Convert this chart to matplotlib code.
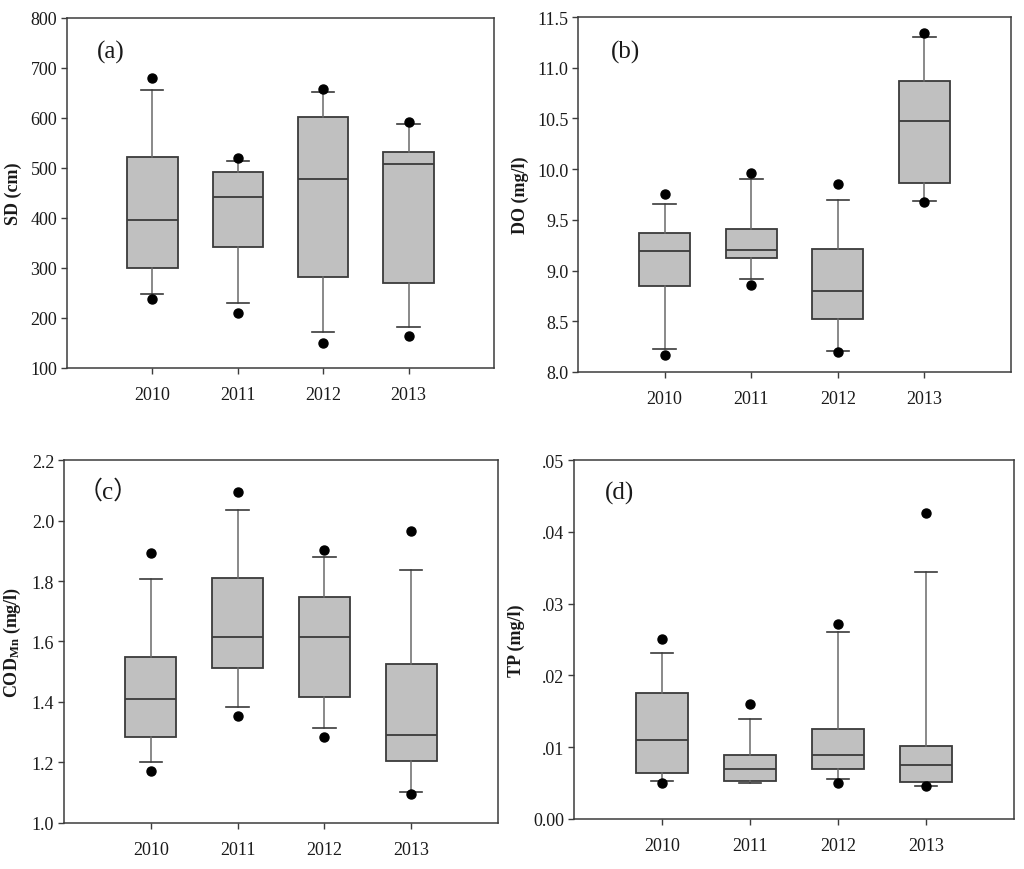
import matplotlib
matplotlib.use("Agg")
import matplotlib.pyplot as plt
from matplotlib.ticker import FixedLocator, FixedFormatter

years = ["2010", "2011", "2012", "2013"]

# SD (cm)
sd_whislo = [247, 229, 171, 181]
sd_q1 = [299, 342, 282, 270]
sd_med = [396, 442, 478, 507]
sd_q3 = [521, 491, 602, 532]
sd_whishi = [656, 513, 652, 587]
sd_fliers = [[238, 679], [209, 519], [149, 657], [163, 591]]

# DO (mg/l)
do_whislo = [8.227, 8.919, 8.207, 9.686]
do_q1 = [8.846, 9.123, 8.523, 9.860]
do_med = [9.189, 9.205, 8.803, 10.479]
do_q3 = [9.370, 9.409, 9.208, 10.871]
do_whishi = [9.659, 9.903, 9.696, 11.299]
do_fliers = [[8.168, 9.758], [8.853, 9.966], [8.194, 9.857], [9.679, 11.345]]

# COD_Mn (mg/l)
cod_whislo = [1.201, 1.385, 1.315, 1.103]
cod_q1 = [1.283, 1.514, 1.416, 1.204]
cod_med = [1.410, 1.615, 1.616, 1.292]
cod_q3 = [1.550, 1.810, 1.747, 1.525]
cod_whishi = [1.808, 2.034, 1.880, 1.836]
cod_fliers = [[1.173, 1.893], [1.353, 2.093], [1.283, 1.904], [1.096, 1.966]]

# TP (mg/l)
tp_whislo = [0.00529, 0.00496, 0.00561, 0.00459]
tp_q1 = [0.00645, 0.00524, 0.0070, 0.00519]
tp_med = [0.01099, 0.0070, 0.00895, 0.00747]
tp_q3 = [0.01749, 0.00895, 0.01248, 0.01011]
tp_whishi = [0.02314, 0.01391, 0.02607, 0.03437]
tp_fliers = [[0.00501, 0.02505], [0.01605], [0.00501, 0.02713], [0.00455, 0.04267]]

sd_ticks = [100, 200, 300, 400, 500, 600, 700, 800]
sd_ticklabels = ["100", "200", "300", "400", "500", "600", "700", "800"]
do_ticks = [8.0, 8.5, 9.0, 9.5, 10.0, 10.5, 11.0, 11.5]
do_ticklabels = ["8.0", "8.5", "9.0", "9.5", "10.0", "10.5", "11.0", "11.5"]
cod_ticks = [1.0, 1.2, 1.4, 1.6, 1.8, 2.0, 2.2]
cod_ticklabels = ["1.0", "1.2", "1.4", "1.6", "1.8", "2.0", "2.2"]
tp_ticks = [0.0, 0.01, 0.02, 0.03, 0.04, 0.05]
tp_ticklabels = ["0.00", ".01", ".02", ".03", ".04", ".05"]

SERIF = ["Liberation Serif", "DejaVu Serif"]
PANEL_FONT = ["Liberation Serif", "Noto Sans CJK SC", "DejaVu Serif"]
plt.rcParams["font.family"] = SERIF
plt.rcParams["mathtext.fontset"] = "custom"
plt.rcParams["mathtext.rm"] = "Liberation Serif"
plt.rcParams["mathtext.bf"] = "Liberation Serif:bold"

fig = plt.figure(figsize=(10.24, 8.7), dpi=100)

panels = [
    dict(rect=[0.0654, 0.5759, 0.4170, 0.4023], lo=sd_whislo, q1=sd_q1, med=sd_med, q3=sd_q3,
         hi=sd_whishi, fl=sd_fliers, ticks=sd_ticks, tl=sd_ticklabels, ylim=(100, 800),
         ylabel="SD (cm)", label="(a)", lpos=(0.070, 0.905)),
    dict(rect=[0.5645, 0.5713, 0.4229, 0.4080], lo=do_whislo, q1=do_q1, med=do_med, q3=do_q3,
         hi=do_whishi, fl=do_fliers, ticks=do_ticks, tl=do_ticklabels, ylim=(8.0, 11.5),
         ylabel="DO (mg/l)", label="(b)", lpos=(0.076, 0.904)),
    dict(rect=[0.0625, 0.0529, 0.4238, 0.4172], lo=cod_whislo, q1=cod_q1, med=cod_med, q3=cod_q3,
         hi=cod_whishi, fl=cod_fliers, ticks=cod_ticks, tl=cod_ticklabels, ylim=(1.0, 2.2),
         ylabel=r"$\mathbf{COD_{Mn}}$ (mg/l)", label="（c）", lpos=(0.032, 0.915)),
    dict(rect=[0.5605, 0.0575, 0.4297, 0.4126], lo=tp_whislo, q1=tp_q1, med=tp_med, q3=tp_q3,
         hi=tp_whishi, fl=tp_fliers, ticks=tp_ticks, tl=tp_ticklabels, ylim=(0.0, 0.05),
         ylabel="TP (mg/l)", label="(d)", lpos=(0.070, 0.911)),
]

box_face = "#c0c0c0"
line_col = "#3a3a3a"
whisk_col = "#6a6a6a"
spine_col = "#3c3c3c"

for p in panels:
    ax = fig.add_axes(p["rect"])
    stats = []
    for i, y in enumerate(years):
        stats.append(dict(label=y, whislo=p["lo"][i], q1=p["q1"][i], med=p["med"][i],
                          q3=p["q3"][i], whishi=p["hi"][i], fliers=p["fl"][i]))
    ax.bxp(stats, positions=[1, 2, 3, 4], widths=0.59, capwidths=0.26,
           patch_artist=True, showfliers=True,
           boxprops=dict(facecolor=box_face, edgecolor=line_col, linewidth=1.3),
           medianprops=dict(color=line_col, linewidth=1.3),
           whiskerprops=dict(color=whisk_col, linewidth=1.1),
           capprops=dict(color=line_col, linewidth=1.2),
           flierprops=dict(marker="o", markerfacecolor="black", markeredgecolor="black",
                           markersize=6.5, linestyle="none"))
    ax.set_xlim(0, 5)
    ax.set_ylim(*p["ylim"])
    ax.yaxis.set_major_locator(FixedLocator(p["ticks"]))
    ax.yaxis.set_major_formatter(FixedFormatter(p["tl"]))
    ax.set_xticks([1, 2, 3, 4])
    ax.set_xticklabels(years)
    ax.tick_params(direction="out", length=4, width=1, color=spine_col,
                   labelsize=13, labelcolor="#1a1a1a")
    ax.tick_params(axis="x", pad=9)
    ax.tick_params(axis="y", pad=3)
    for s in ax.spines.values():
        s.set_color(spine_col)
        s.set_linewidth(1.1)
    ax.set_ylabel(p["ylabel"], fontsize=13, fontweight="bold", color="#1a1a1a", labelpad=6)
    ax.text(p["lpos"][0], p["lpos"][1], p["label"], transform=ax.transAxes,
            fontsize=18, family=PANEL_FONT, color="#1a1a1a", va="center", ha="left")

fig.savefig("out.png", dpi=100)
